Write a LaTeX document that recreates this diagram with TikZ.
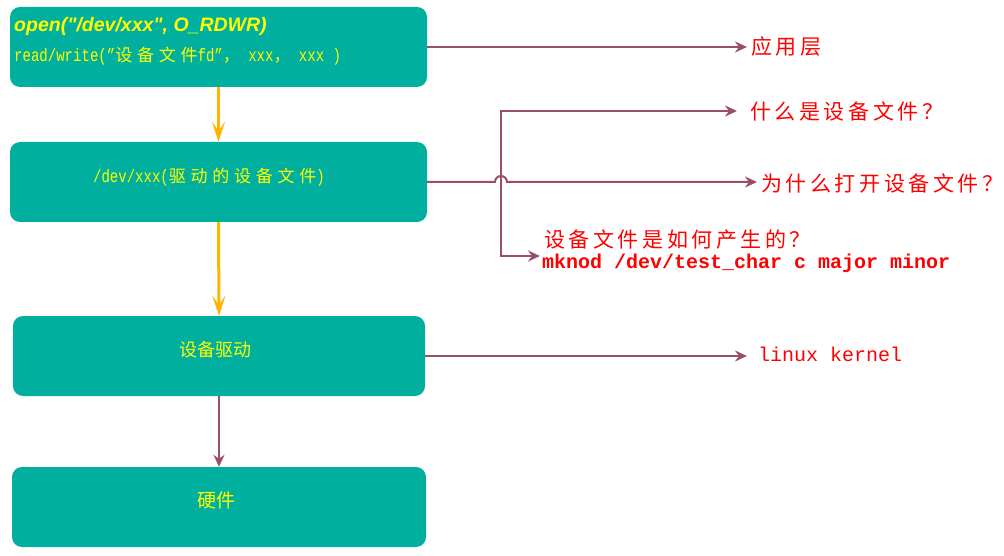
\documentclass[tikz,border=0pt]{standalone}
\usepackage{fontspec}
\usetikzlibrary{arrows.meta}
\newfontfamily\cjkfont{Noto Sans CJK SC}
\newfontfamily\cjkwide[LetterSpace=28]{Noto Sans CJK SC}
\newfontfamily\notecjk[LetterSpace=17]{Noto Sans CJK SC}
\newfontfamily\monofont{Liberation Mono}
\newfontfamily\mononarrow[FakeStretch=0.78]{Liberation Mono}
\newfontfamily\handfont{Liberation Sans}
\definecolor{boxteal}{RGB}{0,175,157}
\definecolor{boxyellow}{RGB}{255,255,0}
\definecolor{linkpurple}{RGB}{155,78,107}
\definecolor{downorange}{RGB}{255,180,0}
\newcommand\boxcjk{\cjkwide\fontsize{17}{20}\selectfont}
\begin{document}
\begin{tikzpicture}[x=1pt, y=-1pt,
  layer/.style={fill=boxteal, rounded corners=10pt, minimum height=80pt, inner sep=0pt},
  boxtext/.style={text=boxyellow, inner sep=0pt},
  note/.style={text=red, inner sep=0pt, anchor=west, font=\notecjk\fontsize{21}{24}\selectfont},
  link/.style={draw=linkpurple, line width=2pt, -{Stealth[length=12pt,width=11pt,inset=4pt]}},
  linkboth/.style={draw=linkpurple, line width=2pt, {Stealth[length=12pt,width=11pt,inset=4pt]}-{Stealth[length=12pt,width=11pt,inset=4pt]}},
  down/.style={draw=downorange, line width=3pt, -{Stealth[length=20pt,width=13pt,inset=9pt]}}]
  \useasboundingbox (0,0) rectangle (1004,556);
  % layers
  \node[layer, minimum width=417pt] (app) at (218.5,47) {};
  \node[layer, minimum width=417pt] (devfile) at (218.5,182) {};
  \node[layer, minimum width=412pt] (driver) at (219,356) {};
  \node[layer, minimum width=414pt] (hw) at (219,507) {};
  \node[boxtext, anchor=west, font=\handfont\bfseries\itshape\fontsize{19.5}{22}\selectfont] (opencall) at (14,26) {open("/dev/xxx", O\_RDWR)};
  \node[boxtext, anchor=west, font=\mononarrow\fontsize{18}{20}\selectfont] (rwcall) at (14,56) {read/write(”{\boxcjk 设备文件}fd”{\boxcjk ，} xxx{\boxcjk ，} xxx )};
  \node[boxtext, font=\mononarrow\fontsize{18}{20}\selectfont] (devtext) at (209,177) {/dev/xxx({\boxcjk 驱动的设备文件})};
  \node[boxtext, font=\cjkfont\fontsize{18}{20}\selectfont] (drvtext) at (215,350) {设备驱动};
  \node[boxtext, font=\cjkfont\fontsize{19}{20}\selectfont] (hwtext) at (216,500) {硬件};
  % notes
  \node[note] (lblapp) at (751,47) {应用层};
  \node[note] (lblwhat) at (750,111) {什么是设备文件？};
  \node[note] (lblwhy) at (761,183) {为什么打开设备文件？};
  \node[note] (lblhow) at (544,240) {设备文件是如何产生的？};
  \node[note, font=\monofont\bfseries\fontsize{20}{24}\selectfont] (lblmknod) at (542,263) {mknod /dev/test\_char c major minor};
  \node[note, font=\monofont\fontsize{20}{24}\selectfont] (lblkernel) at (758,354) {linux kernel};
  \coordinate (forkbot) at (501,256);
  \coordinate (howtip) at (540,256);
  % connectors
  \draw[down] (app.south) -- (devfile.north);
  \draw[down] (devfile.south) -- (driver.north);
  \draw[link] (driver.south) -- (hw.north);
  \draw[link, shorten >=4pt] (app.east) -- (lblapp.west |- app.east);
  \draw[linkboth, shorten <=13pt] (lblwhat.west) -| (forkbot) -- (howtip);
  \draw[link, shorten >=4pt] (devfile.east) -- (495,182) arc[start angle=180, end angle=0, radius=6pt] -- (lblwhy.west |- devfile.east);
  \draw[link, shorten >=11pt] (driver.east) -- (lblkernel.west |- driver.east);
\end{tikzpicture}
\end{document}
